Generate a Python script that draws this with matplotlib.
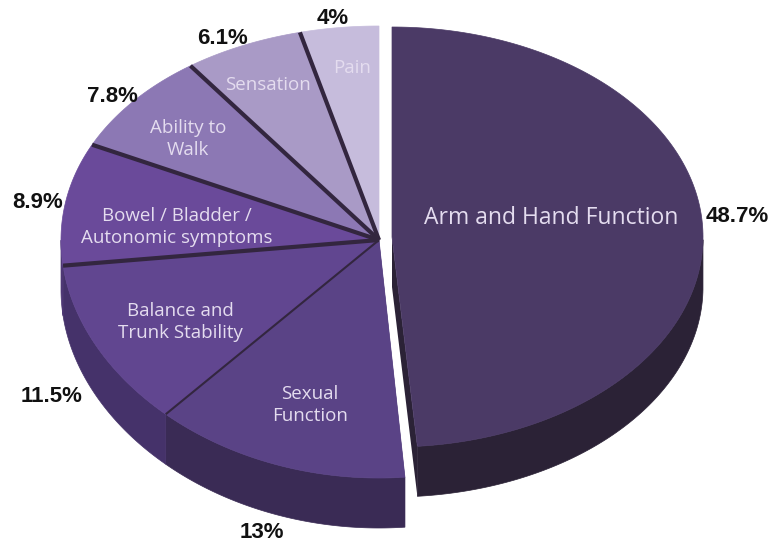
import numpy as np
import matplotlib.pyplot as plt
from matplotlib.patches import Polygon

# data, clockwise from 12 o'clock
labels = ['Arm and Hand Function', 'Sexual\nFunction', 'Balance and\nTrunk Stability',
          'Bowel / Bladder /\nAutonomic symptoms', 'Ability to\nWalk', 'Sensation', 'Pain']
values = [48.7, 13, 11.5, 8.9, 7.8, 6.1, 4]

top_colors = ['#4b3a66', '#5a4386', '#614690', '#6a4a9a', '#8c78b4', '#a99ac6', '#c6bcdc']
side_colors = ['#2b2236', '#3a2b55', '#45326a', '#4e3875', '#6a5a88', '#80739a', '#968da8']

# label positions (pixels)
label_pos = [(551, 218), (310, 405), (180, 322), (177, 227), (188, 139), (268, 85), (352, 68)]
pct_pos = [(737, 217), (262, 533), (52, 397), (38, 202), (112, 97), (222, 38), (333, 18)]

# geometry: the big slice is pulled out to the right
cx_big, cy_big, rx_big, ry_big = 392, 237, 311, 210
cx, cy, rx, ry_top, ry_bot = 379, 240, 318, 214, 238
depth = 50


def ell(th, cx, cy, rx, ryt, ryb, r=1.0):
    s = np.sin(th)
    ry = (ryt + ryb) / 2 - (ryb - ryt) / 2 * s
    return cx + r * rx * np.cos(th), cy - r * ry * s


fig = plt.figure(figsize=(7.71, 5.48), dpi=100)
ax = fig.add_axes([0, 0, 1, 1])
ax.set_xlim(0, 771)
ax.set_ylim(548, 0)
ax.axis('off')

edges = 90 - 360 * np.concatenate([[0], np.cumsum(values)]) / 100.0
geo = []
for i in range(len(values)):
    if i == 0:
        geo.append((cx_big, cy_big, rx_big, ry_big, ry_big))
    else:
        geo.append((cx, cy, rx, ry_top, ry_bot))

# side walls
for i in range(len(values)):
    c = geo[i]
    th = np.radians(np.linspace(edges[i], edges[i + 1], 200))
    th = th[np.sin(th) <= 0.001]
    if len(th) < 2:
        continue
    x, y = ell(th, *c)
    pts = np.column_stack([np.r_[x, x[::-1]], np.r_[y, y[::-1] + depth]])
    ax.add_patch(Polygon(pts, closed=True, fc=side_colors[i], ec=side_colors[i], lw=0.5))

# cut faces next to the gap
for i, e in [(0, edges[1]), (1, edges[1])]:
    c = geo[i]
    ex, ey = ell(np.radians(e), *c)
    pts = [(c[0], c[1]), (ex, ey), (ex, ey + depth), (c[0], c[1] + depth)]
    ax.add_patch(Polygon(pts, closed=True, fc=side_colors[i], ec='none'))

# top faces
for i in range(len(values)):
    c = geo[i]
    th = np.radians(np.linspace(edges[i], edges[i + 1], 200))
    x, y = ell(th, *c)
    pts = np.column_stack([np.r_[c[0], x], np.r_[c[1], y]])
    ax.add_patch(Polygon(pts, closed=True, fc=top_colors[i], ec=top_colors[i], lw=0.5))

# dark separators between the small slices
for i in range(2, len(values)):
    ex, ey = ell(np.radians(edges[i]), *geo[i])
    lw = 1.5 if i == 2 else 3
    ax.plot([geo[i][0], ex], [geo[i][1], ey], color='#33263f', lw=lw, solid_capstyle='butt')

for i, lab in enumerate(labels):
    fs = 16.5 if i == 0 else 13.5
    ax.text(*label_pos[i], lab, ha='center', va='center', color='#e4dcef',
            fontsize=fs, family='Open Sans', linespacing=1.3)
    ax.text(*pct_pos[i], f'{values[i]:g}%', ha='center', va='center', color='#111111',
            fontsize=16, fontweight='bold', family='Liberation Sans')

fig.savefig('out.png', dpi=100, facecolor='white')
